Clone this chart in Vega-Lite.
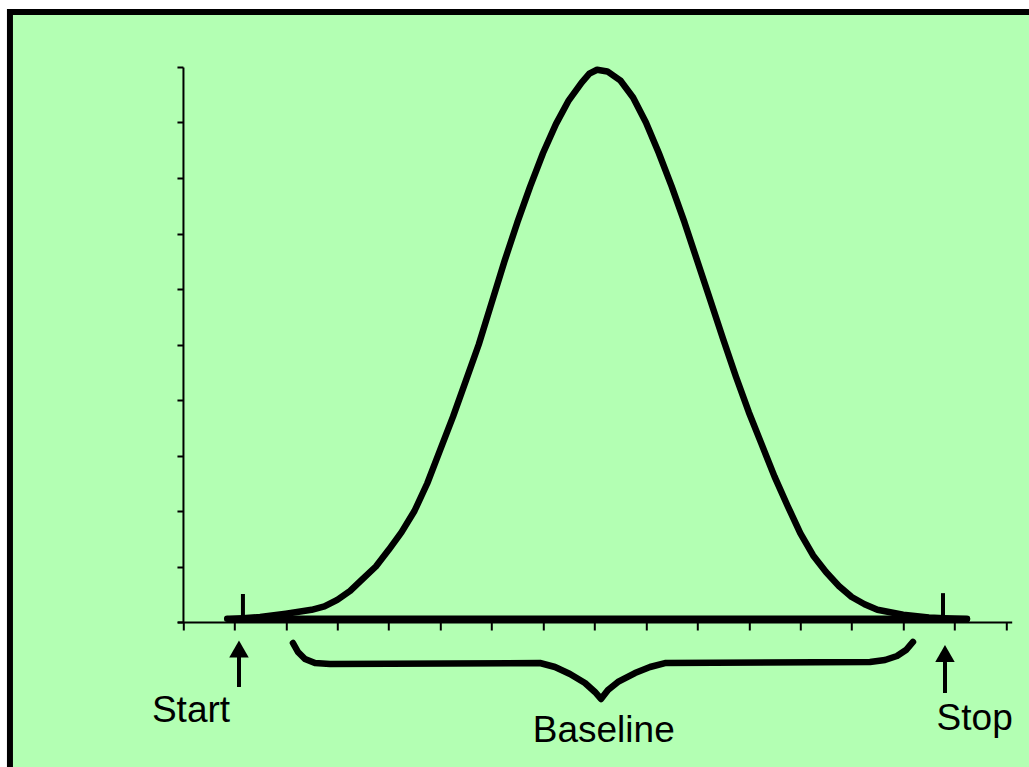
{
  "$schema": "https://vega.github.io/schema/vega-lite/v6.json",
  "autosize": {"type": "none"},
  "width": 834.4,
  "height": 555,
  "padding": {"left": 177.3, "top": 67, "right": 17.3, "bottom": 145},
  "background": "white",
  "view": {"stroke": null},
  "datasets": {
    "frame": [{"x": -3.363, "x2": 20, "y": 10.991, "y2": -5}],
    "lines": [
      {"part": "base", "x": 0.86, "y": 0.06},
      {"part": "base", "x": 15.24, "y": 0.06},
      {"part": "curve", "x": 0.9, "y": 0.05},
      {"part": "curve", "x": 1.5, "y": 0.09},
      {"part": "curve", "x": 2.0, "y": 0.15},
      {"part": "curve", "x": 2.5, "y": 0.22},
      {"part": "curve", "x": 2.75, "y": 0.28},
      {"part": "curve", "x": 3.0, "y": 0.4},
      {"part": "curve", "x": 3.25, "y": 0.56},
      {"part": "curve", "x": 3.5, "y": 0.78},
      {"part": "curve", "x": 3.75, "y": 1.0},
      {"part": "curve", "x": 4.0, "y": 1.3},
      {"part": "curve", "x": 4.25, "y": 1.62},
      {"part": "curve", "x": 4.5, "y": 2.0},
      {"part": "curve", "x": 4.75, "y": 2.5},
      {"part": "curve", "x": 5.0, "y": 3.1},
      {"part": "curve", "x": 5.25, "y": 3.7},
      {"part": "curve", "x": 5.5, "y": 4.35},
      {"part": "curve", "x": 5.75, "y": 5.0},
      {"part": "curve", "x": 6.0, "y": 5.75},
      {"part": "curve", "x": 6.25, "y": 6.5},
      {"part": "curve", "x": 6.5, "y": 7.2},
      {"part": "curve", "x": 6.75, "y": 7.85},
      {"part": "curve", "x": 7.0, "y": 8.45},
      {"part": "curve", "x": 7.25, "y": 8.97},
      {"part": "curve", "x": 7.5, "y": 9.4},
      {"part": "curve", "x": 7.75, "y": 9.72},
      {"part": "curve", "x": 7.9, "y": 9.88},
      {"part": "curve", "x": 8.05, "y": 9.95},
      {"part": "curve", "x": 8.25, "y": 9.92},
      {"part": "curve", "x": 8.5, "y": 9.76},
      {"part": "curve", "x": 8.75, "y": 9.45},
      {"part": "curve", "x": 9.0, "y": 9.0},
      {"part": "curve", "x": 9.25, "y": 8.45},
      {"part": "curve", "x": 9.5, "y": 7.85},
      {"part": "curve", "x": 9.75, "y": 7.2},
      {"part": "curve", "x": 10.0, "y": 6.5},
      {"part": "curve", "x": 10.25, "y": 5.8},
      {"part": "curve", "x": 10.5, "y": 5.1},
      {"part": "curve", "x": 10.75, "y": 4.42},
      {"part": "curve", "x": 11.0, "y": 3.78},
      {"part": "curve", "x": 11.25, "y": 3.2},
      {"part": "curve", "x": 11.5, "y": 2.62},
      {"part": "curve", "x": 11.75, "y": 2.1},
      {"part": "curve", "x": 12.0, "y": 1.6},
      {"part": "curve", "x": 12.25, "y": 1.2},
      {"part": "curve", "x": 12.5, "y": 0.9},
      {"part": "curve", "x": 12.75, "y": 0.65},
      {"part": "curve", "x": 13.0, "y": 0.45},
      {"part": "curve", "x": 13.25, "y": 0.32},
      {"part": "curve", "x": 13.5, "y": 0.22},
      {"part": "curve", "x": 14.0, "y": 0.13},
      {"part": "curve", "x": 14.5, "y": 0.08},
      {"part": "curve", "x": 15.0, "y": 0.06},
      {"part": "curve", "x": 15.24, "y": 0.05},
      {"part": "brace", "x": 2.138, "y": -0.378},
      {"part": "brace", "x": 2.236, "y": -0.541},
      {"part": "brace", "x": 2.372, "y": -0.667},
      {"part": "brace", "x": 2.566, "y": -0.739},
      {"part": "brace", "x": 2.858, "y": -0.757},
      {"part": "brace", "x": 6.94, "y": -0.739},
      {"part": "brace", "x": 7.232, "y": -0.811},
      {"part": "brace", "x": 7.523, "y": -0.937},
      {"part": "brace", "x": 7.815, "y": -1.099},
      {"part": "brace", "x": 8.009, "y": -1.261},
      {"part": "brace", "x": 8.126, "y": -1.387},
      {"part": "brace", "x": 8.262, "y": -1.225},
      {"part": "brace", "x": 8.456, "y": -1.081},
      {"part": "brace", "x": 8.787, "y": -0.919},
      {"part": "brace", "x": 9.079, "y": -0.811},
      {"part": "brace", "x": 9.37, "y": -0.739},
      {"part": "brace", "x": 13.355, "y": -0.721},
      {"part": "brace", "x": 13.647, "y": -0.685},
      {"part": "brace", "x": 13.88, "y": -0.613},
      {"part": "brace", "x": 14.055, "y": -0.505},
      {"part": "brace", "x": 14.191, "y": -0.36}
    ],
    "rules": [
      {"name": "start spike", "x": 1.166, "y": 0.06, "y2": 0.505},
      {"name": "stop spike", "x": 14.775, "y": 0.06, "y2": 0.52},
      {"name": "start arrow", "x": 1.089, "y": -0.613, "y2": -1.171},
      {"name": "stop arrow", "x": 14.813, "y": -0.721, "y2": -1.279}
    ],
    "heads": [
      {"name": "start arrow", "x": 1.089, "y": -0.486},
      {"name": "stop arrow", "x": 14.813, "y": -0.568}
    ],
    "labels": [
      {"label": "Start", "x": 0.156, "y": -1.8},
      {"label": "Stop", "x": 15.39, "y": -1.946},
      {"label": "Baseline", "x": 8.18, "y": -2.162}
    ]
  },
  "layer": [
    {
      "data": {"name": "frame"},
      "mark": {"type": "rect", "fill": "#B3FFB3", "stroke": "black", "strokeWidth": 6},
      "encoding": {
        "x": {"field": "x", "type": "quantitative",
              "scale": {"domain": [-0.11, 16.11], "nice": false, "zero": false},
              "axis": {"values": [0,1,2,3,4,5,6,7,8,9,10,11,12,13,14,15,16], "tickSize": 8, "labels": false, "title": null, "grid": false, "domainColor": "black", "tickColor": "black", "domainWidth": 2, "tickWidth": 2, "zindex": 1}},
        "x2": {"field": "x2"},
        "y": {"field": "y", "type": "quantitative",
              "scale": {"domain": [0, 10], "nice": false, "zero": false},
              "axis": {"values": [0,1,2,3,4,5,6,7,8,9,10], "tickSize": 6, "offset": -5.66, "labels": false, "title": null, "grid": false, "domainColor": "black", "tickColor": "black", "domainWidth": 2, "tickWidth": 2, "zindex": 1}},
        "y2": {"field": "y2"}
      }
    },
    {
      "data": {"name": "lines"},
      "mark": {"type": "line", "color": "black", "strokeWidth": 6.5, "strokeCap": "round", "strokeJoin": "round"},
      "encoding": {
        "x": {"field": "x", "type": "quantitative"},
        "y": {"field": "y", "type": "quantitative"},
        "detail": {"field": "part"}
      }
    },
    {
      "data": {"name": "rules"},
      "mark": {"type": "rule", "color": "black", "strokeWidth": 4},
      "encoding": {
        "x": {"field": "x", "type": "quantitative"},
        "y": {"field": "y", "type": "quantitative"},
        "y2": {"field": "y2"}
      }
    },
    {
      "data": {"name": "heads"},
      "mark": {"type": "point", "shape": "triangle-up", "filled": true, "color": "black", "opacity": 1, "size": 380},
      "encoding": {
        "x": {"field": "x", "type": "quantitative"},
        "y": {"field": "y", "type": "quantitative"}
      }
    },
    {
      "data": {"name": "labels"},
      "mark": {"type": "text", "font": "Liberation Sans", "fontSize": 37, "color": "black", "align": "center", "baseline": "alphabetic"},
      "encoding": {
        "x": {"field": "x", "type": "quantitative"},
        "y": {"field": "y", "type": "quantitative"},
        "text": {"field": "label"}
      }
    }
  ]
}
